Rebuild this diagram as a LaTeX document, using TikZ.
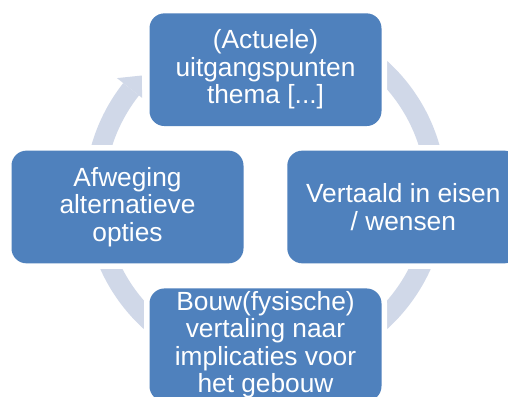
\documentclass[tikz,border=0pt]{standalone}
\usepackage{fontspec}
\setmainfont{Liberation Sans}
\usetikzlibrary{calc}
\definecolor{boxblue}{HTML}{4F81BD}
\definecolor{ringblue}{HTML}{D0D8E8}
\tikzset{
  cyclebox/.style={
    draw=none, fill=boxblue, rounded corners=15pt,
    minimum width=232pt, minimum height=112.7pt, inner sep=0pt,
    preaction={draw=white, line width=11pt},
    text=white, align=center,
    font=\fontsize{26.3}{27.5}\selectfont},
  ring/.style={draw=ringblue, line width=20pt},
  ringhead/.style={fill=ringblue, draw=none}
}
\begin{document}
\begin{tikzpicture}[x=1pt,y=1pt]
  \useasboundingbox (0,0) rectangle (508,396);
  \clip (0,0) rectangle (508,396);
  \fill[white] (0,0) rectangle (508,396);
  \coordinate (c) at (265.5,201);
  % ring with one arrow head
  \draw[ring] ($(c)+(141.8:171)$) arc[start angle=141.8, end angle=486, radius=171];
  \fill[ringhead] ($(c)+(141.8:157)$) -- ($(c)+(141.8:189)$) -- ($(c)+(136:172)$) -- cycle;
  % boxes
  \node[cyclebox] (top) at (265.5,326.3) {(Actuele)\\uitgangspunten\\thema [...]};
  \node[cyclebox] (right) at (403.3,189) {Vertaald in eisen\\/ wensen};
  \node[cyclebox] (bottom) at (265.5,51.2) {Bouw(fysische)\\vertaling naar\\implicaties voor\\het gebouw};
  \node[cyclebox] (left) at (127.5,189) {Afweging\\alternatieve\\opties};
\end{tikzpicture}
\end{document}
